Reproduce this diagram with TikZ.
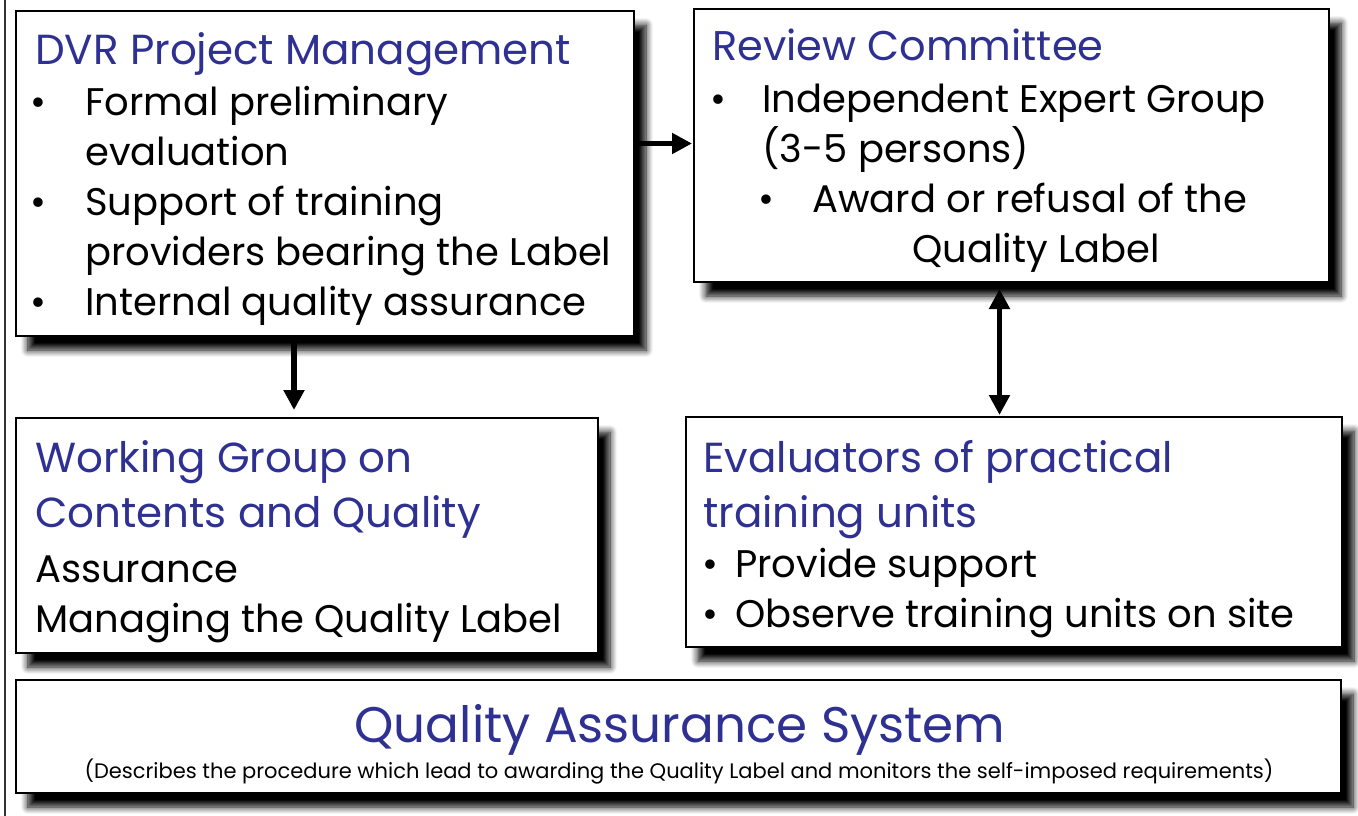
\documentclass[tikz,border=0pt]{standalone}
\usepackage{fontspec}
\setmainfont{Poppins}
\usetikzlibrary{arrows.meta,shadows.blur}
\definecolor{ttl}{RGB}{46,49,146}
\tikzset{
  box/.style={draw=black, line width=2pt, fill=white, anchor=north west, inner sep=0pt,
    blur shadow={shadow xshift=12pt, shadow yshift=-14pt, shadow blur radius=7pt, shadow opacity=100, shadow blur steps=8}},
  body/.style={inner sep=0pt, anchor=base west, font=\fontsize{38.5}{42}\selectfont},
  head/.style={body, text=ttl, font=\fontsize{42}{46}\selectfont},
  arr/.style={line width=5.5pt, -{Triangle[width=20pt,length=20pt]}},
  darr/.style={line width=5.5pt, {Triangle[width=20pt,length=20pt]}-{Triangle[width=20pt,length=20pt]}}
}
\begin{document}
\begin{tikzpicture}[x=1pt,y=-1pt]
\useasboundingbox (0,0) rectangle (1358,816);
\draw[line width=1.5pt, black!80] (5,0) coordinate (fa) -- (5,816) coordinate (fb);
% boxes
\node[box, minimum width=618pt, minimum height=325pt] (dvr) at (15,10) {};
\node[box, minimum width=635pt, minimum height=273pt] (rev) at (693,8) {};
\node[box, minimum width=582pt, minimum height=235pt] (wg) at (15,417) {};
\node[box, minimum width=656pt, minimum height=230pt] (ev) at (685,416) {};
\node[box, minimum width=1325pt, minimum height=113pt] (qas) at (15,679) {};
% DVR text
\node[head] (dvrt) at (35,65) {DVR Project Management};
\node[body] (b1) at (30,115) {•};
\node[body] (d1) at (85,115) {Formal preliminary};
\node[body] (d2) at (85,165) {evaluation};
\node[body] (b2) at (30,215) {•};
\node[body] (d3) at (85,215) {Support of training};
\node[body] (d4) at (85,265) {providers bearing the Label};
\node[body] (b3) at (30,315) {•};
\node[body] (d5) at (85,315) {Internal quality assurance};
% Review text
\node[head, font=\fontsize{41.5}{46}\selectfont] (revt) at (712,60) {Review Committee};
\node[body] (b4) at (710,112) {•};
\node[body] (r1) at (762,112) {Independent Expert Group};
\node[body] (r2) at (762,162) {(3-5 persons)};
\node[body] (b5) at (758,212) {•};
\node[body] (r3) at (812,212) {Award or refusal of the};
\node[body] (r4) at (912,262) {Quality Label};
% Working group text
\node[head] (wg1) at (35,472) {Working Group on};
\node[head] (wg2) at (35,527) {Contents and Quality};
\node[body] (wg3) at (35,582) {Assurance};
\node[body] (wg4) at (35,632) {Managing the Quality Label};
% Evaluators text
\node[head] (ev1) at (703,472) {Evaluators of practical};
\node[head] (ev2) at (703,527) {training units};
\node[body] (b6) at (702,577) {•};
\node[body] (ev3) at (735,577) {Provide support};
\node[body] (b7) at (702,627) {•};
\node[body] (ev4) at (735,627) {Observe training units on site};
% QAS text
\node[head, anchor=base, font=\fontsize{50}{54}\selectfont] (q1) at (680,742) {Quality Assurance System};
\node[body, anchor=base, font=\fontsize{21}{24}\selectfont] (q2) at (679,778) {(Describes the procedure which lead to awarding the Quality Label and monitors the self-imposed requirements)};
% arrows
\draw[arr, shorten >=1pt] ([yshift=30pt]dvr.east) -- ([yshift=30pt]dvr.east -| rev.west);
\draw[arr, shorten <=3pt, shorten >=7pt] ([xshift=-31pt]dvr.south) -- ([xshift=-31pt]dvr.south |- wg.north);
\draw[darr, shorten <=6pt, shorten >=1pt] ([xshift=-12pt]rev.south) -- ([xshift=-12pt]rev.south |- ev.north);
\end{tikzpicture}
\end{document}
